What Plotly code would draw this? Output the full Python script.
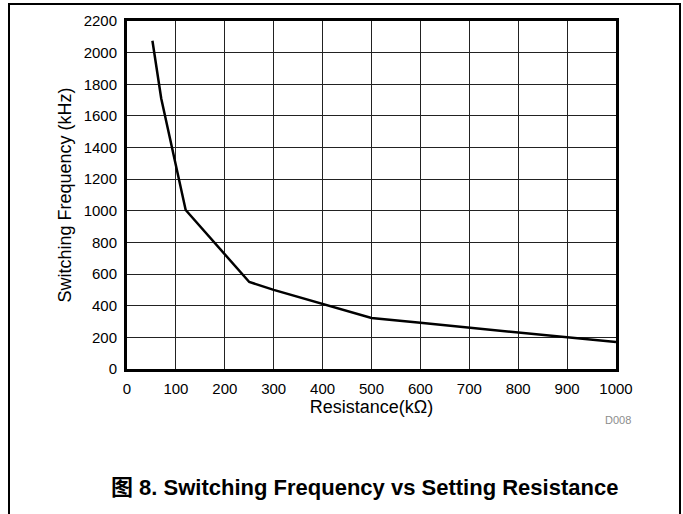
import plotly.graph_objects as go

resistance_kohm = [52, 70, 120, 250, 300, 400, 500, 600, 700, 800, 900, 1000]
frequency_khz = [2075, 1710, 1005, 550, 500, 410, 322, 292, 261, 230, 199, 170]

x_ticks = [0, 100, 200, 300, 400, 500, 600, 700, 800, 900, 1000]
y_ticks = [0, 200, 400, 600, 800, 1000, 1200, 1400, 1600, 1800, 2000, 2200]

FONT = "Liberation Sans, Arial, sans-serif"

fig = go.Figure()
fig.add_trace(go.Scatter(
    x=resistance_kohm, y=frequency_khz, mode="lines",
    line=dict(color="black", width=2.5), showlegend=False, hoverinfo="skip"))

axis_common = dict(
    showline=True, linecolor="black", linewidth=3, mirror=True,
    showgrid=True, gridcolor="#222222", gridwidth=1,
    zeroline=False, ticks="", tickfont=dict(family=FONT, size=15, color="black"),
)

fig.update_xaxes(range=[0, 1000], tickvals=x_ticks, ticktext=[str(v) for v in x_ticks],
                 title=dict(text="Resistance(kΩ)", font=dict(family=FONT, size=18, color="black"), standoff=1),
                 ticklabelstandoff=4, **axis_common)
fig.update_yaxes(range=[0, 2200], tickvals=y_ticks, ticktext=[str(v) for v in y_ticks],
                 title=dict(text="Switching Frequency (kHz)", font=dict(family=FONT, size=18, color="black"), standoff=8),
                 ticklabelstandoff=4, **axis_common)

fig.update_layout(
    width=683, height=514,
    margin=dict(l=127, r=67, t=21, b=145),
    paper_bgcolor="white", plot_bgcolor="white",
    shapes=[dict(type="rect", xref="paper", yref="paper",
                 x0=(9 - 127) / 489, x1=(680 - 127) / 489,
                 y0=(369 - 530) / 348, y1=(369 - 4) / 348,
                 line=dict(color="black", width=2), fillcolor="rgba(0,0,0,0)", layer="below")],
    annotations=[
        dict(text="D008", xref="paper", yref="paper", x=(618 - 127) / 489, y=(369 - 420) / 348,
             xanchor="center", yanchor="middle",
             showarrow=False, font=dict(family=FONT, size=11, color="#8c8c8c")),
        dict(text="<b>图 8. Switching Frequency vs Setting Resistance</b>", xref="paper", yref="paper",
             x=(364 - 127) / 489, y=(369 - 487) / 348, xanchor="center", yanchor="middle", showarrow=False,
             font=dict(family="Liberation Sans, Noto Sans CJK SC, sans-serif", size=22, color="black")),
    ],
)

fig.write_html("out.html", config={"displayModeBar": False},
               post_script="document.body.style.margin='0';document.body.style.overflow='hidden';")
